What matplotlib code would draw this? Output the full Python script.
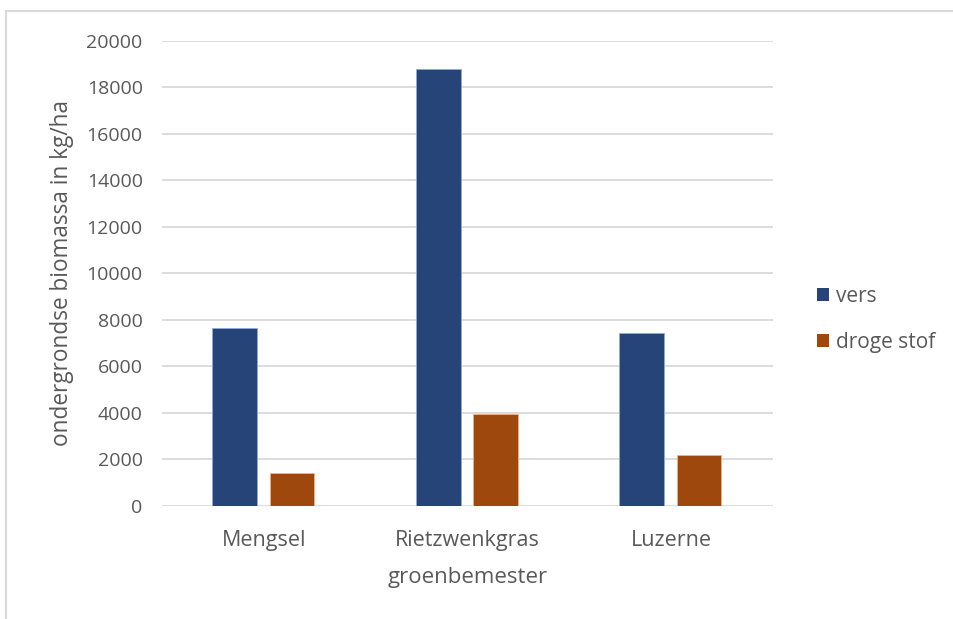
import numpy as np
import matplotlib
matplotlib.use("Agg")
from matplotlib import pyplot as plt
from matplotlib.patches import Patch
from matplotlib.lines import Line2D

categories = ["Mengsel", "Rietzwenkgras", "Luzerne"]
vers = [7670, 18790, 7450]
droge_stof = [1410, 3970, 2190]
series_names = ["vers", "droge stof"]
y_ticks = list(range(0, 20001, 2000))

blue = "#264478"
orange = "#9E480E"
text_gray = "#595959"
grid_gray = "#d9d9d9"

plt.rcParams['font.family'] = ['Open Sans', 'DejaVu Sans']

fig = plt.figure(figsize=(9.54, 6.19), dpi=100)
ax = fig.add_axes([0.170, 0.1826, 0.640, 0.7512])

x = np.arange(len(categories))
width = 0.22
ax.bar(x - 0.143, vers, width, color=blue, edgecolor="#8faadc", linewidth=0.6, zorder=3)
ax.bar(x + 0.138, droge_stof, width, color=orange, edgecolor="#f4b183", linewidth=0.6, zorder=3)

ax.set_xlim(-0.5, 2.5)
ax.set_ylim(0, 20000)
ax.set_yticks(y_ticks)
ax.set_yticklabels([str(v) for v in y_ticks])
ax.set_xticks(x)
ax.set_xticklabels(categories)
ax.yaxis.grid(True, color=grid_gray, linewidth=1.3, zorder=0)
ax.set_axisbelow(True)
for s in ax.spines.values():
    s.set_visible(False)
ax.tick_params(axis="y", length=0, pad=14, labelsize=14, labelcolor=text_gray)
ax.tick_params(axis="x", length=0, pad=17.5, labelsize=15.5, labelcolor=text_gray)

ax.set_ylabel("ondergrondse biomassa in kg/ha", fontsize=16.3, color=text_gray, labelpad=9)
ax.set_xlabel("groenbemester", fontsize=16, color=text_gray, labelpad=11.5)

handles = [Patch(facecolor=blue), Patch(facecolor=orange)]
fig.legend(handles, series_names, loc="center left", bbox_to_anchor=(0.837, 0.484),
           frameon=False, fontsize=15, labelcolor=text_gray, handlelength=0.55,
           handleheight=0.55, handletextpad=0.35, labelspacing=1.2)

# chart border (cropped)
fig.add_artist(Line2D([0.0065, 0.0065], [0, 0.982], color=grid_gray, linewidth=1.5))
fig.add_artist(Line2D([0.0065, 1.0], [0.982, 0.982], color=grid_gray, linewidth=1.5))

fig.savefig("out.png", dpi=100)
